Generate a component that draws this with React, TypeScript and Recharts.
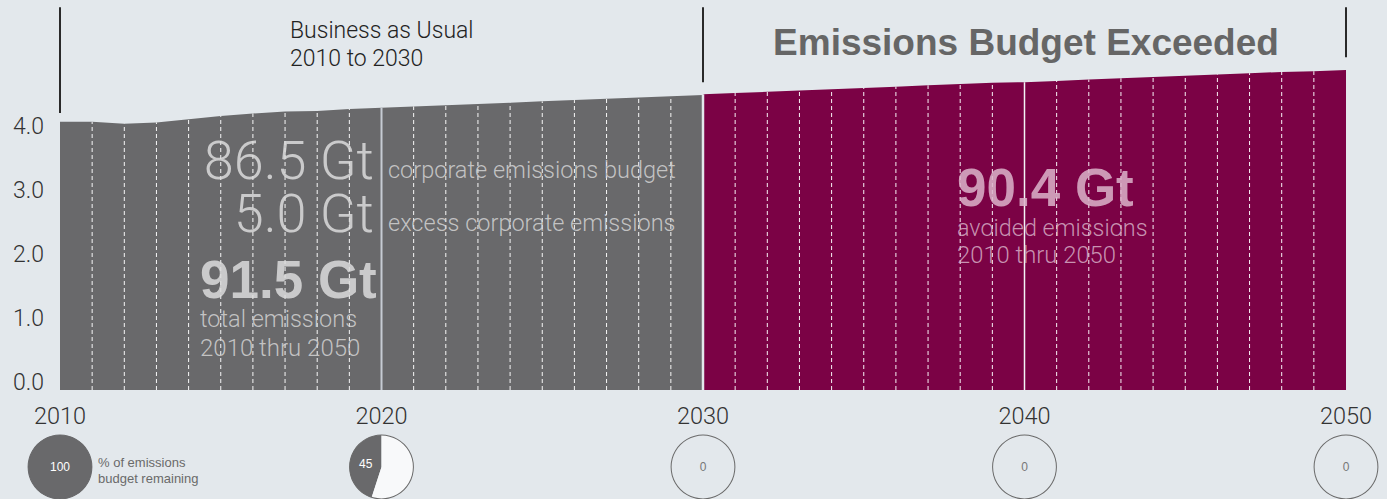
import React from 'react';
import { ComposedChart, Area, XAxis, YAxis, ReferenceLine, PieChart, Pie, Cell } from 'recharts';

// ---- data ----
const years = [
  2010, 2011, 2012, 2013, 2014, 2015, 2016, 2017, 2018, 2019, 2020,
  2021, 2022, 2023, 2024, 2025, 2026, 2027, 2028, 2029, 2030,
  2031, 2032, 2033, 2034, 2035, 2036, 2037, 2038, 2039, 2040,
  2041, 2042, 2043, 2044, 2045, 2046, 2047, 2048, 2049, 2050,
];
// Business as usual emissions, 2010–2030 (Gt)
const bauValues = [
  4.19, 4.19, 4.16, 4.18, 4.23, 4.28, 4.32, 4.35, 4.36, 4.39, 4.41,
  4.43, 4.45, 4.47, 4.49, 4.51, 4.53, 4.55, 4.57, 4.59, 4.61,
];
// Emissions after the budget is exceeded, 2030–2050 (Gt)
const exceededValues = [
  4.62, 4.64, 4.66, 4.68, 4.70, 4.72, 4.74, 4.76, 4.78, 4.80, 4.81,
  4.83, 4.85, 4.87, 4.89, 4.91, 4.93, 4.95, 4.97, 4.98, 5.0,
];
const xTicks = [2010, 2020, 2030, 2040, 2050];
const yTicks = [0, 1, 2, 3, 4];
const decadeYears = [2010, 2020, 2030, 2040, 2050];
const budgetRemaining = [100, 45, 0, 0, 0];
const bracketYears = [2010, 2030, 2050];
const bracketBottoms = [4.33, 4.81, 5.2];
const bracketTop = 5.98;

// ---- layout / style ----
const W = 1387;
const H = 499;
const Y_AXIS_W = 60;
const MARGIN = { top: 6, right: 41, bottom: 79, left: 0 };
const PLOT_LEFT = Y_AXIS_W + MARGIN.left;
const PLOT_W = W - PLOT_LEFT - MARGIN.right;
const BG = '#e3e8ec';
const GRAY = '#69696b';
const MAROON = '#7b0245';
const LIGHT = "Roboto, 'Liberation Sans', Arial, sans-serif";
const SANS = "'Liberation Sans', Arial, sans-serif";

const splitIndex = bauValues.length - 1;
const data = years.map((year, i) => ({
  year,
  bau: i <= splitIndex ? bauValues[i] : null,
  exceeded: i >= splitIndex ? exceededValues[i - splitIndex] : null,
  total: i < splitIndex ? bauValues[i] : exceededValues[i - splitIndex],
}));

const YTick = (props: any) => {
  const { x, y, payload } = props;
  return (
    <text x={x} y={y - 8} textAnchor="end" dominantBaseline="central" fontSize={23} fontWeight={300} fill="#333" fontFamily={LIGHT}>
      {Number(payload.value).toFixed(1)}
    </text>
  );
};

const decadeLineStyle: Record<number, { stroke: string; width: number }> = {
  2020: { stroke: '#c6cbd3', width: 2 },
  2030: { stroke: BG, width: 2.5 },
  2040: { stroke: '#f4f4f6', width: 1.5 },
};

const pieX = (year: number) => PLOT_LEFT + ((year - xTicks[0]) / (xTicks[xTicks.length - 1] - xTicks[0])) * PLOT_W;

export default function App() {
  return (
    <div style={{ position: 'absolute', left: 0, top: 0, width: W, height: H, background: BG, overflow: 'hidden' }}>
      <div style={{ position: 'absolute', left: 0, top: 0 }}>
        <ComposedChart width={W} height={H} data={data} margin={MARGIN}>
          <XAxis
            dataKey="year"
            type="number"
            domain={[2010, 2050]}
            ticks={xTicks}
            interval={0}
            axisLine={false}
            tickLine={false}
            tickSize={0}
            tickMargin={17}
            height={30}
            tick={{ fontSize: 23.5, fill: '#333', fontFamily: LIGHT, fontWeight: 300 }}
          />
          <YAxis
            type="number"
            domain={[0, 6]}
            ticks={yTicks}
            interval={0}
            width={Y_AXIS_W}
            axisLine={false}
            tickLine={false}
            tickSize={0}
            tickMargin={16}
            tick={<YTick />}
          />
          <Area dataKey="bau" type="linear" stroke="none" fill={GRAY} fillOpacity={1} isAnimationActive={false} connectNulls={false} />
          <Area dataKey="exceeded" type="linear" stroke="none" fill={MAROON} fillOpacity={1} isAnimationActive={false} connectNulls={false} />
          {data.map((d) => {
            if (d.year === 2010 || d.year === 2050) return null;
            const deco = decadeLineStyle[d.year];
            return (
              <ReferenceLine
                key={`yl-${d.year}`}
                segment={[{ x: d.year, y: 0 }, { x: d.year, y: d.total }]}
                stroke={deco ? deco.stroke : '#ffffff'}
                strokeWidth={deco ? deco.width : 1}
                strokeDasharray={deco ? undefined : '4 3'}
                strokeOpacity={deco ? 1 : 0.95}
              />
            );
          })}
          {bracketYears.map((yr, i) => (
            <ReferenceLine
              key={`br-${yr}`}
              segment={[{ x: yr, y: bracketBottoms[i] }, { x: yr, y: bracketTop }]}
              stroke="#2a2a2a"
              strokeWidth={2}
              ifOverflow="visible"
            />
          ))}
        </ComposedChart>
      </div>

      <div style={{ position: 'absolute', left: 0, top: 430 }}>
        <PieChart width={W} height={69} margin={{ top: 0, right: 0, bottom: 0, left: 0 }}>
          {decadeYears.map((yr, i) => {
            const r = budgetRemaining[i];
            const pd = [
              { name: 'remaining', value: r },
              { name: 'used', value: 100 - r },
            ];
            return (
              <Pie
                key={`p-${yr}`}
                data={pd}
                dataKey="value"
                cx={pieX(yr)}
                cy={37}
                outerRadius={32}
                startAngle={90}
                endAngle={450}
                stroke="none"
                isAnimationActive={false}
                label={false}
                labelLine={false}
              >
                <Cell fill={GRAY} stroke="none" />
                <Cell fill={r > 0 ? '#f8f9fa' : 'none'} stroke="none" />
              </Pie>
            );
          })}
          {decadeYears.map((yr, i) => {
            const r = budgetRemaining[i];
            return (
              <Pie
                key={`o-${yr}`}
                data={[{ name: 'outline', value: 1 }]}
                dataKey="value"
                cx={pieX(yr)}
                cy={37}
                innerRadius={31.4}
                outerRadius={32.4}
                startAngle={90}
                endAngle={450}
                fill={r === 100 ? GRAY : '#6a6a6a'}
                stroke="none"
                isAnimationActive={false}
                labelLine={false}
                label={(p: any) => {
                  const cx = pieX(yr);
                  const cy = 37;
                  let lx = cx;
                  let ly = cy;
                  if (r > 0 && r < 100) {
                    const ang = ((90 + (r / 100) * 180) * Math.PI) / 180;
                    lx = cx + 32 * 0.5 * Math.cos(-ang);
                    ly = cy + 32 * 0.5 * Math.sin(-ang);
                  }
                  return (
                    <text key={`lab-${yr}`} x={lx} y={ly} textAnchor="middle" dominantBaseline="central" fontSize={12} fill={r > 0 ? '#ffffff' : '#777'} fontFamily={SANS}>
                      {r}
                    </text>
                  );
                }}
              />
            );
          })}
        </PieChart>
      </div>

      <svg width={W} height={H} style={{ position: 'absolute', left: 0, top: 0, pointerEvents: 'none' }}>
        <text x={290} y={38} fontSize={23} fill="#222" fontFamily={LIGHT} fontWeight={300}>Business as Usual</text>
        <text x={290} y={66} fontSize={23} fill="#222" fontFamily={LIGHT} fontWeight={300}>2010 to 2030</text>
        <text x={1026} y={55} textAnchor="middle" fontSize={37} fontWeight={700} fill="#666" fontFamily={SANS}>Emissions Budget Exceeded</text>

        <g fillOpacity={0.85}>
          <text x={374} y={179} textAnchor="end" fontSize={54} fontWeight={300} fill="#dcdcdc" fontFamily={LIGHT}>86.5 Gt</text>
          <text x={374} y={232} textAnchor="end" fontSize={54} fontWeight={300} fill="#dcdcdc" fontFamily={LIGHT}>5.0 Gt</text>
          <text x={388} y={178} fontSize={23.5} fontWeight={300} fill="#d4d4d4" fontFamily={LIGHT}>corporate emissions budget</text>
          <text x={388} y={231} fontSize={23.5} fontWeight={300} fill="#d4d4d4" fontFamily={LIGHT}>excess corporate emissions</text>
          <text x={200} y={298} fontSize={53} fontWeight={700} fill="#dcdcdc" fontFamily={SANS}>91.5 Gt</text>
          <text x={200} y={327} fontSize={23.5} fontWeight={300} fill="#d4d4d4" fontFamily={LIGHT}>total emissions</text>
          <text x={200} y={356} fontSize={24} fontWeight={300} fill="#d4d4d4" fontFamily={LIGHT}>2010 thru 2050</text>

          <text x={957} y={206} fontSize={53} fontWeight={700} fill="#dcb4ca" fontFamily={SANS}>90.4 Gt</text>
          <text x={957} y={236} fontSize={23.4} fontWeight={300} fill="#d7aec5" fontFamily={LIGHT}>avoided emissions</text>
          <text x={957} y={263} fontSize={23.8} fontWeight={300} fill="#d7aec5" fontFamily={LIGHT}>2010 thru 2050</text>
        </g>

        <text x={98} y={467} fontSize={13} fill="#6a6a6a" fontFamily={SANS}>% of emissions</text>
        <text x={98} y={483} fontSize={13} fill="#6a6a6a" fontFamily={SANS}>budget remaining</text>
      </svg>
    </div>
  );
}
